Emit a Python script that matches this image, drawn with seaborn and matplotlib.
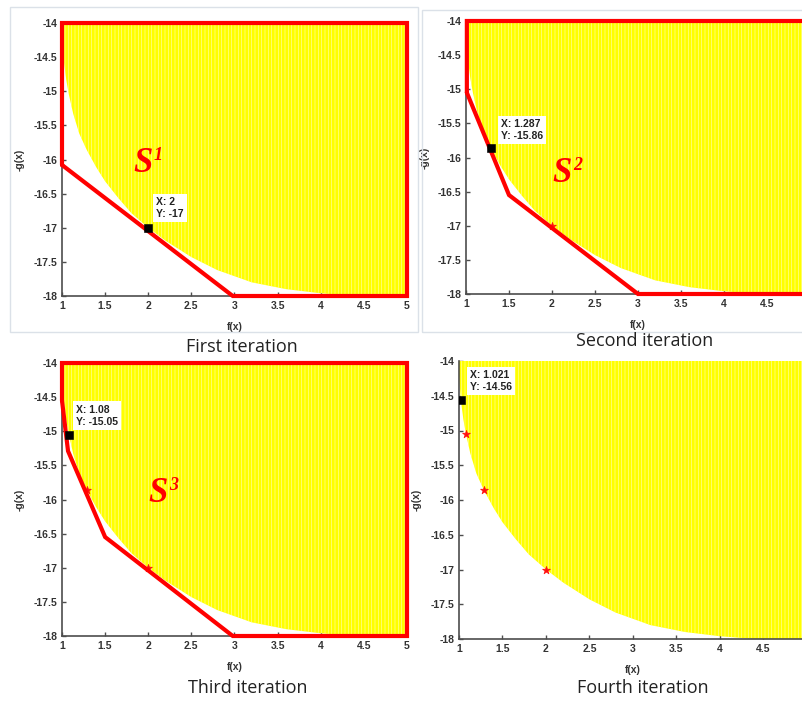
import matplotlib
matplotlib.use("Agg")
import numpy as np
import matplotlib.pyplot as plt
import seaborn as sns
from matplotlib.patches import Rectangle

# feasible region boundary (lower edge of the yellow area)
front_x = [1.0, 1.021, 1.05, 1.08, 1.13, 1.2, 1.287, 1.4, 1.5, 1.65, 1.8, 2.0,
           2.2, 2.5, 2.8, 3.2, 3.6, 4.0, 4.4, 5.0]
front_y = [-14.2, -14.56, -14.84, -15.05, -15.33, -15.62, -15.86, -16.12, -16.32,
           -16.56, -16.78, -17.0, -17.19, -17.43, -17.62, -17.8, -17.9, -17.96,
           -18.0, -18.0]

# outer approximations S1, S2, S3 (red polygons)
s1_x = [1.0, 1.0, 5.0, 5.0, 2.98, 1.0]
s1_y = [-16.08, -14.0, -14.0, -18.0, -18.0, -16.08]
s2_x = [1.01, 1.01, 5.0, 5.0, 3.0, 1.5, 1.01]
s2_y = [-15.05, -14.0, -14.0, -18.0, -18.0, -16.55, -15.05]
s3_x = [1.0, 1.0, 5.0, 5.0, 2.98, 1.5, 1.07, 1.0]
s3_y = [-14.55, -14.0, -14.0, -18.0, -18.0, -16.55, -15.29, -14.55]

# points found so far (red stars) and the data tip of each iteration
found_x = [1.08, 1.287, 2.0]
found_y = [-15.05, -15.86, -17.0]
tip_x = [2.0, 1.287, 1.08, 1.021]
tip_y = [-17.0, -15.86, -15.05, -14.56]
tip_text = ["X: 2\nY: -17", "X: 1.287\nY: -15.86", "X: 1.08\nY: -15.05",
            "X: 1.021\nY: -14.56"]

x_ticks = [1, 1.5, 2, 2.5, 3, 3.5, 4, 4.5, 5]
x_ticklabels = ["1", "1.5", "2", "2.5", "3", "3.5", "4", "4.5", "5"]
y_ticks = [-18, -17.5, -17, -16.5, -16, -15.5, -15, -14.5, -14]
y_ticklabels = ["-18", "-17.5", "-17", "-16.5", "-16", "-15.5", "-15", "-14.5", "-14"]

captions = ["First iteration", "Second iteration", "Third iteration", "Fourth iteration"]

sns.set_style("white")
plt.rcParams["font.family"] = ["Liberation Sans", "DejaVu Sans"]
plt.rcParams["hatch.linewidth"] = 0.4

W, H = 803, 702
fig = plt.figure(figsize=(W / 100, H / 100), dpi=100)


def px_axes(left, top, w, h):
    return fig.add_axes([left / W, 1 - (top + h) / H, w / W, h / H])


def draw_panel(ax, cut_x, cut_y, n_found, tip_i, tip_off, s_label, cropped=False):
    ax.fill_between(front_x, front_y, -14, color="#ffff00", edgecolor="#ffffb8",
                    hatch="|||||", lw=0, zorder=1)
    if cut_x is not None:
        sns.lineplot(x=cut_x, y=cut_y, sort=False, estimator=None, color="#ff0000",
                     lw=3, ax=ax, zorder=5, solid_joinstyle="miter")
        ax.lines[-1].set_clip_on(False)
    if n_found:
        sns.scatterplot(x=found_x[3 - n_found:], y=found_y[3 - n_found:], marker="*",
                        s=35, color="#ff1010", edgecolor="#ff1010", lw=0.5,
                        ax=ax, zorder=4)
    sns.scatterplot(x=[tip_x[tip_i]], y=[tip_y[tip_i]], marker="s", s=28,
                    color="black", edgecolor="black", ax=ax, zorder=6)
    ax.annotate(tip_text[tip_i], xy=(tip_x[tip_i], tip_y[tip_i]), xytext=tip_off,
                textcoords="offset points", ha="left", va="bottom", fontsize=7.5,
                weight="bold", linespacing=1.25, color="#222222", zorder=7,
                bbox=dict(boxstyle="square,pad=0.3", fc="white", ec="none"))
    if s_label is not None:
        sx, sy, num = s_label
        ax.text(sx, sy, "S", family="Liberation Serif", style="italic",
                weight="bold", fontsize=25, color="#ff0000", ha="left",
                va="baseline", zorder=6)
        ax.annotate(num, xy=(sx, sy), xytext=(15, 8.6), textcoords="offset points",
                    family="Liberation Serif", style="italic", weight="bold",
                    fontsize=13, color="#ff0000", ha="left", va="baseline", zorder=6)

    ax.set_xlim(1, 5)
    ax.set_ylim(-18, -14)
    ax.set_xticks(x_ticks)
    # the right-hand screenshots are cut before x = 5
    ax.set_xticklabels(x_ticklabels[:-1] + ([""] if cropped else x_ticklabels[-1:]))
    ax.set_yticks(y_ticks)
    ax.set_yticklabels(y_ticklabels)
    ax.tick_params(direction="in", length=3, width=1, color="#4d4d4d",
                   labelsize=7.5, labelcolor="#333333", pad=3.5,
                   bottom=True, left=True)
    for lab in ax.get_xticklabels() + ax.get_yticklabels():
        lab.set_fontweight("bold")
    for side in ["top", "right"]:
        ax.spines[side].set_visible(False)
    for side in ["left", "bottom"]:
        ax.spines[side].set_color("#4d4d4d")
        ax.spines[side].set_linewidth(1.2)
    ax.set_xlabel("f(x)", fontsize=7.5, color="#333333", weight="bold")
    ax.set_ylabel("-g(x)", fontsize=7.5, color="#333333", weight="bold")
    ax.xaxis.set_label_coords(0.5, -0.095)
    ax.yaxis.set_label_coords(-0.107, 0.5)
    ax.patch.set_alpha(0)


# screenshot frames of the two upper panels
fig.add_artist(Rectangle((10 / W, 1 - 332 / H), 408 / W, 325 / H, fill=False,
                         ec="#dbe1e8", lw=1, transform=fig.transFigure))
fig.add_artist(Rectangle((422 / W, 1 - 332 / H), 400 / W, 322 / H, fill=False,
                         ec="#dbe1e8", lw=1, transform=fig.transFigure))

ax1 = px_axes(62, 23, 345, 273)
draw_panel(ax1, s1_x, s1_y, 0, 0, (5.8, 6.5), (1.823, -16.18, "1"))

ax2 = px_axes(466, 21, 344, 273)
draw_panel(ax2, s2_x, s2_y, 1, 1, (7.2, 5.0), (2.0, -16.36, "2"), cropped=True)

ax3 = px_axes(62, 363, 345, 273)
draw_panel(ax3, s3_x, s3_y, 2, 2, (5.0, 5.8), (2.0, -16.04, "3"))

ax4 = px_axes(459, 361, 348, 278)
draw_panel(ax4, None, None, 3, 3, (6.5, 5.8), None, cropped=True)

caption_pos = [(242, 352), (645, 346), (248, 693), (643, 693)]
for text, (cx, cy) in zip(captions, caption_pos):
    fig.text(cx / W, 1 - cy / H, text, ha="center", va="baseline", fontsize=13,
             family="Open Sans", color="#222222")

fig.savefig("out.png", dpi=100)
